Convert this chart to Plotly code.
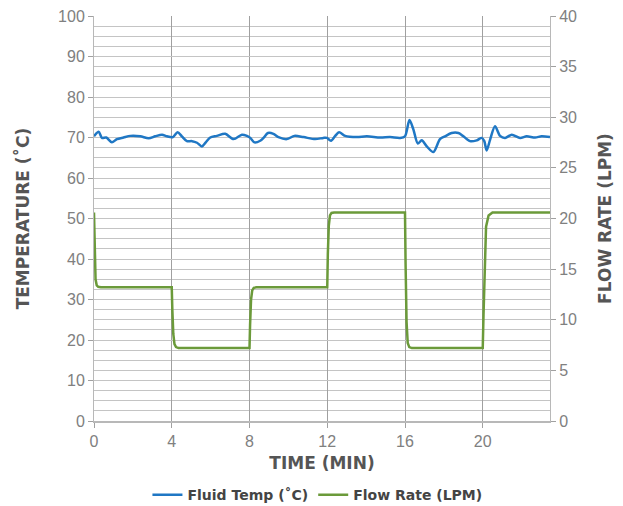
import plotly.graph_objects as go

# Fluid temperature (°C) vs time (min)
temp_time = [0.0, 0.24, 0.41, 0.63, 0.92, 1.18, 1.52, 1.87, 2.38, 2.81, 3.15, 3.5, 3.75,
             4.06, 4.3, 4.52, 4.78, 5.04, 5.3, 5.55, 5.75, 5.98, 6.32, 6.75, 7.18, 7.61,
             7.87, 8.04, 8.26, 8.55, 8.72, 8.95, 9.23, 9.49, 9.92, 10.31, 10.78, 11.38,
             11.8, 11.98, 12.19, 12.41, 12.61, 12.92, 13.52, 14.04, 14.72, 15.23, 15.75,
             16.0, 16.23, 16.43, 16.66, 16.86, 17.12, 17.46, 17.8, 18.06, 18.4, 18.75,
             19.0, 19.35, 19.69, 19.95, 20.08, 20.2, 20.38, 20.63, 20.89, 21.15, 21.49,
             21.92, 22.26, 22.69, 23.03, 23.46]
temp_vals = [70.3, 71.4, 69.9, 70.0, 68.8, 69.6, 70.0, 70.4, 70.3, 69.8, 70.3, 70.7, 70.3,
             70.1, 71.3, 70.3, 69.1, 69.1, 68.7, 67.8, 68.8, 70.0, 70.4, 70.9, 69.6, 70.7,
             70.4, 69.9, 68.8, 69.2, 69.9, 71.1, 70.9, 70.1, 69.6, 70.4, 70.1, 69.6,
             69.9, 69.9, 69.2, 70.4, 71.3, 70.4, 70.1, 70.3, 70.0, 70.1, 69.9,
             70.3, 74.3, 72.0, 68.5, 69.3, 67.8, 66.4, 69.6, 70.3, 71.1, 71.1,
             70.3, 69.1, 69.3, 69.9, 69.1, 66.8, 69.5, 72.8, 70.4, 69.9, 70.7,
             69.9, 70.3, 70.0, 70.3, 70.1]

# Flow rate (LPM) vs time (min)
flow_time = [0.0, 0.03, 0.08, 0.14, 0.22, 0.35, 4.0, 4.03, 4.08, 4.14, 4.22, 4.35,
             8.0, 8.03, 8.08, 8.14, 8.22, 8.35, 12.0, 12.03, 12.08, 12.14, 12.22, 12.35,
             16.0, 16.03, 16.08, 16.14, 16.22, 16.35, 20.0, 20.04, 20.1, 20.17, 20.3, 20.5,
             23.46]
flow_vals = [20.6, 16.5, 14.0, 13.4, 13.25, 13.2, 13.2, 11.0, 8.6, 7.6, 7.3, 7.2,
             7.2, 9.5, 12.0, 12.9, 13.15, 13.2, 13.2, 16.5, 19.3, 20.3, 20.55, 20.6,
             20.6, 15.5, 9.8, 7.7, 7.3, 7.2, 7.2, 10.5, 16.0, 19.2, 20.3, 20.6,
             20.6]

x_ticks = [0, 4, 8, 12, 16, 20]

fig = go.Figure()
fig.add_trace(go.Scatter(x=temp_time, y=temp_vals, name="Fluid Temp (˚C)", mode="lines",
                         line=dict(color="#1f77c4", width=2.5, shape="spline", smoothing=0.8)))
fig.add_trace(go.Scatter(x=flow_time, y=flow_vals, name="Flow Rate (LPM)", mode="lines",
                         yaxis="y2",
                         line=dict(color="#6b9a3a", width=2.5, shape="linear")))

tick_font = dict(family="Liberation Sans, Arial, sans-serif", size=16, color="#808080")
title_font = dict(family="DejaVu Sans, sans-serif", size=17, color="#555555")

fig.update_layout(
    width=615, height=498,
    margin=dict(l=86, r=73, t=8, b=85, autoexpand=False),
    paper_bgcolor="white", plot_bgcolor="white",
    showlegend=True,
    legend=dict(orientation="h", x=0.49, xanchor="center", y=-0.183, yanchor="middle",
                font=dict(family="DejaVu Sans, sans-serif", size=14, color="#444444",
                          weight="bold"),
                itemwidth=30, tracegroupgap=0),
    xaxis=dict(range=[0, 23.46], tickvals=x_ticks, ticktext=[str(v) for v in x_ticks],
               showgrid=True, gridcolor="#a0a0a0", gridwidth=1, automargin=False,
               showline=True, linecolor="#b8b8b8", linewidth=2,
               ticks="outside", ticklen=5, tickcolor="#a0a0a0",
               tickfont=tick_font, zeroline=False, ticklabeloverflow="allow",
               title=dict(text="<b>TIME (MIN)</b>", font=title_font, standoff=8)),
    yaxis=dict(range=[0, 100], dtick=10, showgrid=True, gridcolor="#c4c4c4", gridwidth=1,
               minor=dict(dtick=2.5, showgrid=True, gridcolor="#c4c4c4", gridwidth=1),
               showline=True, linecolor="#b8b8b8", linewidth=1, automargin=False,
               ticks="outside", ticklen=5, tickcolor="#a0a0a0",
               tickfont=tick_font, zeroline=False, ticklabeloverflow="allow",
               title=dict(text="<b>TEMPERATURE (˚C)</b>", font=title_font, standoff=24)),
    yaxis2=dict(range=[0, 40], dtick=5, overlaying="y", side="right", showgrid=False,
                showline=True, linecolor="#b8b8b8", linewidth=1, automargin=False,
                ticks="outside", ticklen=5, tickcolor="#a0a0a0",
                tickfont=tick_font, zeroline=False, ticklabeloverflow="allow",
                title=dict(text="<b>FLOW RATE (LPM)</b>", font=title_font, standoff=23)),
)

fig.write_html("out.html")
